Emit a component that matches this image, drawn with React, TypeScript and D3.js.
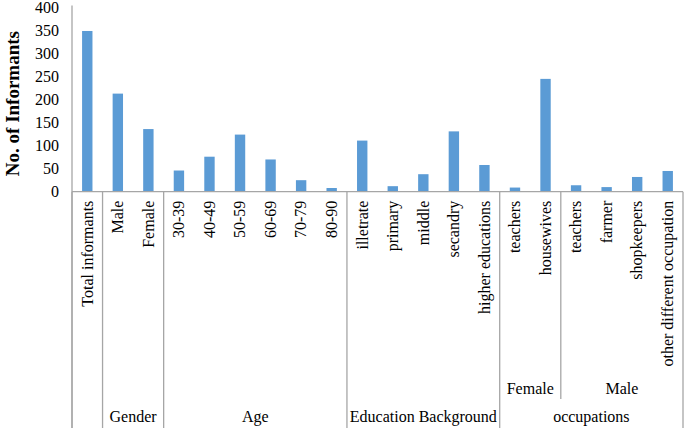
import { useEffect, useRef } from "react"
import * as d3 from "d3"

// category labels along the x axis (first level)
const categories = [
  "Total informants",
  "Male",
  "Female",
  "30-39",
  "40-49",
  "50-59",
  "60-69",
  "70-79",
  "80-90",
  "illetrate",
  "primary",
  "middle",
  "secandry",
  "higher educations",
  "teachers",
  "housewives",
  "teachers",
  "farmer",
  "shopkeepers",
  "other different occupation",
]

const informants = [349, 213, 136, 46, 76, 124, 70, 25, 8, 111, 12, 38, 131, 58, 9, 245, 14, 10, 32, 45]

// second level: [label, first index, count]
const subGroups: [string, number, number][] = [
  ["Female", 14, 2],
  ["Male", 16, 4],
]

// top level groups
const groups: [string, number, number][] = [
  ["", 0, 1],
  ["Gender", 1, 2],
  ["Age", 3, 6],
  ["Education Background", 9, 5],
  ["occupations", 14, 6],
]

const yTicks = [0, 50, 100, 150, 200, 250, 300, 350, 400]

const App = () => {
  const svgRef = useRef<SVGSVGElement>(null)

  useEffect(() => {
    if (!svgRef.current) return
    const svg = d3.select(svgRef.current)
    svg.selectAll("*").remove()

    const width = 685
    const height = 428
    const left = 72
    const right = 683
    const baseY = 191.7
    const topY = 7.5
    const axisColor = "#a6a6a6"
    const font = '"Liberation Serif", Tinos, "Times New Roman", "DejaVu Serif", serif'

    const x = d3
      .scaleBand<number>()
      .domain(d3.range(categories.length))
      .range([left, right])
      .padding(0)

    const y = d3.scaleLinear().domain([0, 400]).range([baseY, topY])

    const bw = x.bandwidth()
    const barW = bw * 0.34

    // bars
    svg
      .append("g")
      .selectAll("rect")
      .data(informants)
      .enter()
      .append("rect")
      .attr("x", (_, i) => (x(i) || 0) + (bw - barW) / 2)
      .attr("y", (d) => y(d))
      .attr("width", barW)
      .attr("height", (d) => baseY - y(d))
      .attr("fill", "#5b9bd5")

    // y axis line
    svg
      .append("line")
      .attr("x1", left)
      .attr("x2", left)
      .attr("y1", topY - 2)
      .attr("y2", height)
      .attr("stroke", axisColor)
      .attr("stroke-width", 1.3)

    // x axis baseline
    svg
      .append("line")
      .attr("x1", left)
      .attr("x2", right)
      .attr("y1", baseY)
      .attr("y2", baseY)
      .attr("stroke", axisColor)
      .attr("stroke-width", 1.3)

    const t = svg.append("g").style("font-family", font).attr("fill", "#000")

    // y tick labels
    t.append("g")
      .selectAll("text")
      .data(yTicks)
      .enter()
      .append("text")
      .attr("x", left - 13)
      .attr("y", (d) => y(d))
      .attr("dy", "0.35em")
      .attr("text-anchor", "end")
      .attr("font-size", 16)
      .text((d) => d)

    // y axis title
    t.append("text")
      .attr("transform", `translate(19,${(baseY + topY) / 2 + 4}) rotate(-90)`)
      .attr("text-anchor", "middle")
      .attr("font-weight", "bold")
      .attr("font-size", 19)
      .text("No. of Informants")

    // category labels, rotated
    t.append("g")
      .selectAll("text")
      .data(categories)
      .enter()
      .append("text")
      .attr("transform", (_, i) => `translate(${(x(i) || 0) + bw / 2},${baseY + 9}) rotate(-90)`)
      .attr("dy", "0.33em")
      .attr("text-anchor", "end")
      .attr("font-size", 16)
      .text((d) => d)

    // full-height dividers between top-level groups
    const edges = groups.map((g) => g[1]).concat([categories.length])
    svg
      .append("g")
      .selectAll("line")
      .data(edges)
      .enter()
      .append("line")
      .attr("x1", (i) => (i < categories.length ? x(i) || 0 : right))
      .attr("x2", (i) => (i < categories.length ? x(i) || 0 : right))
      .attr("y1", baseY)
      .attr("y2", height)
      .attr("stroke", axisColor)
      .attr("stroke-width", 1.3)

    // divider inside the second level
    svg
      .append("g")
      .selectAll("line")
      .data(subGroups.slice(1))
      .enter()
      .append("line")
      .attr("x1", (d) => x(d[1]) || 0)
      .attr("x2", (d) => x(d[1]) || 0)
      .attr("y1", baseY)
      .attr("y2", 399)
      .attr("stroke", axisColor)
      .attr("stroke-width", 1.3)

    // second level labels
    t.append("g")
      .selectAll("text")
      .data(subGroups)
      .enter()
      .append("text")
      .attr("x", (d) => (x(d[1]) || 0) + (bw * d[2]) / 2)
      .attr("y", 394)
      .attr("text-anchor", "middle")
      .attr("font-size", 16)
      .text((d) => d[0])

    // top level labels
    t.append("g")
      .selectAll("text")
      .data(groups)
      .enter()
      .append("text")
      .attr("x", (d) => (x(d[1]) || 0) + (bw * d[2]) / 2)
      .attr("y", 422)
      .attr("text-anchor", "middle")
      .attr("font-size", 16)
      .text((d) => d[0])

    svg.attr("width", width).attr("height", height)
  }, [])

  return (
    <svg
      ref={svgRef}
      width={685}
      height={428}
      style={{ position: "absolute", left: 0, top: 0, background: "#fff" }}
    ></svg>
  )
}

export default App
